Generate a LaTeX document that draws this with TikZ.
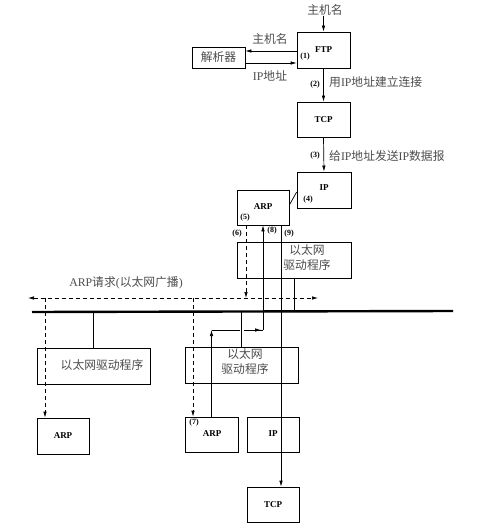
\documentclass[tikz,border=0pt]{standalone}
\usepackage{fontspec}
\setmainfont{Liberation Serif}
\newfontfamily\cjk{Noto Sans CJK SC}
\usetikzlibrary{arrows.meta,calc}
\begin{document}
\begin{tikzpicture}[x=1pt,y=-1pt,
  box/.style={draw, line width=0.7pt, inner sep=0pt, font=\bfseries\fontsize{9}{10}\selectfont},
  cn/.style={font=\cjk\fontsize{11.8}{15}\selectfont, text=black!70, inner sep=0pt, align=center},
  num/.style={font=\bfseries\fontsize{8}{9}\selectfont, inner sep=0pt},
  ln/.style={line width=0.7pt},
  arr/.style={ln, -{Latex[length=6pt,width=3.5pt]}},
  darr/.style={ln, dash pattern=on 4pt off 3pt, -{Latex[length=6pt,width=3.5pt]}},
  ]
\useasboundingbox (0,0) rectangle (480,529);

% boxes
\node[box, minimum width=53pt, minimum height=36pt] (ftp) at (323.5,50) {FTP};
\node[box, cn, minimum width=53pt, minimum height=21pt] (res) at (218.5,57.5) {解析器};
\node[box, minimum width=53pt, minimum height=35pt] (tcp) at (323.5,119.5) {TCP};
\node[box, minimum width=54pt, minimum height=36pt] (ip1) at (324,190) {};
\node[box, minimum width=52pt, minimum height=35pt] (arp1) at (263,207.5) {};
\node[box, minimum width=114pt, minimum height=36pt] (drvA) at (294,260) {};
\node[box, cn, minimum width=113pt, minimum height=36pt] (drvB) at (93.5,366) {};
\node[box, minimum width=113pt, minimum height=36pt] (drvC) at (241.5,365) {};
\node[box, minimum width=52pt, minimum height=36pt] (arpL) at (63,436) {ARP};
\node[box, minimum width=53pt, minimum height=35pt] (arpM) at (211.5,434.5) {};
\node[box, minimum width=52pt, minimum height=35pt] (ipB) at (273,434.5) {};
\node[box, minimum width=52pt, minimum height=35pt] (tcpB) at (273,504.5) {TCP};

% texts inside boxes
\node[font=\bfseries\fontsize{9}{10}\selectfont, inner sep=0pt] (ip1t) at (324,188) {IP};
\node[font=\bfseries\fontsize{9}{10}\selectfont, inner sep=0pt] (arp1t) at (263,207) {ARP};
\node[font=\bfseries\fontsize{9}{10}\selectfont, inner sep=0pt] (arpMt) at (212,434) {ARP};
\node[font=\bfseries\fontsize{9}{10}\selectfont, inner sep=0pt] (ipBt) at (273,434) {IP};
\node[cn] (drvAt) at (307,258) {以太网\\驱动程序};
\node[cn] (drvBt) at (102,365) {以太网驱动程序};
\node[cn] (drvCt) at (245,362) {以太网\\驱动程序};

% numbers
\node[num] (n1) at (305,57) {(1)};
\node[num] (n2) at (315,85) {(2)};
\node[num] (n3) at (315,156) {(3)};
\node[num] (n4) at (308,200) {(4)};
\node[num] (n5) at (245,218) {(5)};
\node[num] (n6) at (237,234) {(6)};
\node[num] (n8) at (272,231) {(8)};
\node[num] (n9) at (289,234) {(9)};
\node[num] (n7) at (194,423) {(7)};

% labels
\node[cn] (hn) at (325,10) {主机名};
\node[cn] (hn2) at (270,39) {主机名};
\node[cn] (ipa) at (270,76) {{\rmfamily IP}地址};
\node[cn, anchor=west] (l2) at (329,82) {用{\rmfamily IP}地址建立连接};
\node[cn, anchor=west] (l3) at (329,156) {给{\rmfamily IP}地址发送{\rmfamily IP}数据报};
\node[cn] (bc) at (126,283) {{\rmfamily ARP}请求{\rmfamily (}以太网广播{\rmfamily )}};

% coordinates
\coordinate (busL) at (32,312);
\coordinate (busR) at (453,311);
\coordinate (bcL) at (28,298);
\coordinate (bcR) at (318,298);
\coordinate (c1) at (arpM.north |- 0,330);
\coordinate (c2) at (arp1.south |- 0,330);

% top connectors
\draw[arr] (hn.south -| ftp.north) -- (ftp.north);
\draw[arr] (ftp.west |- 0,51) -- (res.east |- 0,51);
\draw[arr] (res.east |- 0,63) -- (ftp.west |- 0,63);
\draw[arr] (ftp.south) -- (tcp.north);
\draw[arr] (tcp.south) -- (ip1.north);
\draw[ln] (arp1.east |- 0,205) -- (ip1.west |- 0,192);

% ARP reply path (8)
\draw[ln] (c1) -- (c2);
\draw[arr] (arpM.north) -- (c1);
\draw[arr] (c1) -- ($(c2)+(-2,0)$);
\draw[arr] (c2) -- (arp1.south);
\draw[draw=white, line width=4pt] ($(drvC.north |- c1)+(0,-5)$) -- ($(drvC.north |- c1)+(0,5)$);

% drops to the bus
\draw[ln] (drvA.south) -- (drvA.south |- busL);
\draw[ln] (drvB.north |- busL) -- (drvB.north);
\draw[ln] (drvC.north |- busL) -- (drvC.north);

% path (9)
\draw[arr] (arp1.south -| 281,0) -- (tcpB.north -| 281,0);

% broadcast
\draw[ln, dash pattern=on 4pt off 3pt, {Latex[length=6pt,width=3.5pt]}-{Latex[length=6pt,width=3.5pt]}] (bcL) -- (bcR);
\draw[darr] (arp1.south -| 246,0) -- (bcL -| 246,0);
\draw[darr] (bcL -| 45,0) -- (arpL.north -| 45,0);
\draw[darr] (bcL -| 193,0) -- (arpM.north -| 193,0);

% bus
\draw[line width=2.4pt] (busL) -- (busR);
\end{tikzpicture}
\end{document}
